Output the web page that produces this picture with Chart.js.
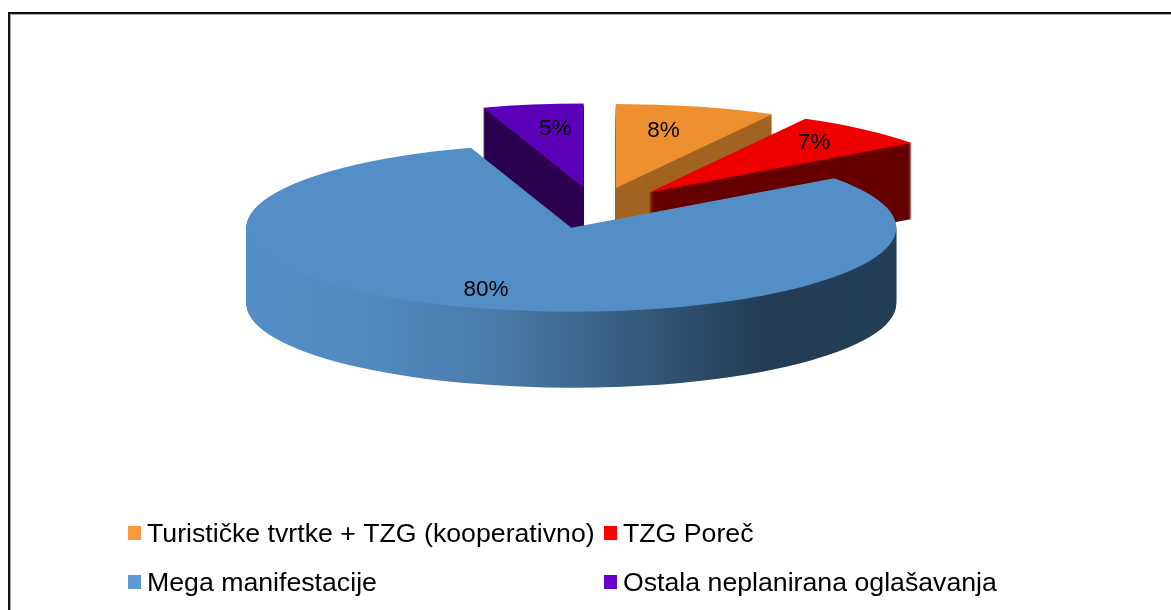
<!DOCTYPE html>
<html>
<head>
<meta charset="utf-8">
<style>
html,body{margin:0;padding:0;width:1171px;height:610px;overflow:hidden;background:#fff}
#wrap{position:absolute;left:0;top:0;width:1171px;height:610px}
#frame{position:absolute;left:8px;top:12px;width:1180px;height:620px;border-left:2px solid #111;border-top:2px solid #111;box-shadow:inset 1px 1px 0 #aaa}
canvas{position:absolute;left:0;top:0}
</style>
<script src="https://cdn.jsdelivr.net/npm/chart.js@4"></script>
</head>
<body>
<div id="wrap"><div id="frame"></div><canvas id="c" width="1171" height="610"></canvas></div>
<script>
const categories = ['Turističke tvrtke + TZG (kooperativno)', 'TZG Poreč', 'Mega manifestacije', 'Ostala neplanirana oglašavanja'];
const values = [8, 7, 80, 5];
const percentLabels = ['8%', '7%', '80%', '5%'];

const topColors = ['#ee8f30', '#ee0000', '#548ec6', '#5b00b8'];
const sideColors = ['#a16422', '#660000', null, '#2b004f'];
const legendColors = ['#f79a3c', '#ff0000', '#5b9bd5', '#6600cc'];
const drawOrder = [0, 1, 3, 2];
const labelNudge = [[-13, 4], [4, -2], [-10, 2], [10, 3]];

const RADIUS = 325, EXPLODE = 80, TILT = 0.2585, DEPTH = 76, CX = 596, CY = 208, LABEL_R = 0.75;

const pie3d = {
  id: 'pie3d',
  beforeDatasetDraw(chart, args) {
    const ctx = chart.ctx, arcs = args.meta.data;
    const ax = arcs[0].x, ay = arcs[0].y;
    ctx.save();
    ctx.translate(CX, CY);
    ctx.scale(1, TILT);
    ctx.translate(-ax, -ay);
    drawOrder.forEach(i => {
      const arc = arcs[i], saved = arc.options;
      const half = (arc.startAngle + arc.endAngle) / 2;
      const tx = EXPLODE * Math.cos(half), ty = EXPLODE * Math.sin(half);
      ctx.save();
      ctx.translate(tx, ty);
      let side = sideColors[i];
      if (!side) {
        const toLocal = X => X - CX + ax - tx;
        const g = ctx.createLinearGradient(toLocal(246), 0, toLocal(895), 0);
        const stop = X => (X - 246) / (895 - 246);
        g.addColorStop(0, '#548ec6');
        g.addColorStop(stop(370), '#528ac0');
        g.addColorStop(stop(500), '#4a7aa6');
        g.addColorStop(stop(640), '#34597b');
        g.addColorStop(stop(765), '#223c54');
        g.addColorStop(1, '#233f57');
        side = g;
      }
      arc.options = Object.assign({}, saved, {backgroundColor: side, borderWidth: 0});
      for (let d = DEPTH; d >= 1; d--) {
        ctx.save();
        ctx.translate(0, d / TILT);
        arc.draw(ctx);
        ctx.restore();
      }
      arc.options = Object.assign({}, saved, {backgroundColor: topColors[i], borderWidth: 0});
      arc.draw(ctx);
      arc.options = saved;
      ctx.restore();
    });
    ctx.restore();

    ctx.save();
    ctx.fillStyle = '#000';
    ctx.font = '22.5px "Liberation Sans", Arial, sans-serif';
    ctx.textAlign = 'center';
    ctx.textBaseline = 'middle';
    arcs.forEach((arc, i) => {
      const half = (arc.startAngle + arc.endAngle) / 2;
      const r = EXPLODE + RADIUS * LABEL_R;
      const x = CX + Math.cos(half) * r + labelNudge[i][0];
      const y = CY + Math.sin(half) * r * TILT + labelNudge[i][1];
      ctx.fillText(percentLabels[i], x, y);
    });
    ctx.restore();
    return false;
  },
  afterDraw(chart) {
    const ctx = chart.ctx;
    const cols = [128, 604], rows = [526, 575];
    ctx.save();
    ctx.font = '26.7px "Liberation Sans", Arial, sans-serif';
    ctx.textBaseline = 'middle';
    ctx.textAlign = 'left';
    categories.forEach((name, i) => {
      const x = cols[i % 2], y = rows[Math.floor(i / 2)];
      ctx.fillStyle = legendColors[i];
      ctx.fillRect(x, y, 13, 14);
      ctx.fillStyle = '#000';
      ctx.fillText(name, x + 19, y + 9);
    });
    ctx.restore();
  }
};

new Chart(document.getElementById('c'), {
  type: 'pie',
  data: {
    labels: categories,
    datasets: [{
      data: values,
      backgroundColor: topColors,
      borderWidth: 0,
      clip: false
    }]
  },
  options: {
    responsive: false,
    animation: false,
    radius: RADIUS,
    layout: {padding: 0},
    plugins: {legend: {display: false}, tooltip: {enabled: false}, title: {display: false}}
  },
  plugins: [pie3d]
});
</script>
</body>
</html>
